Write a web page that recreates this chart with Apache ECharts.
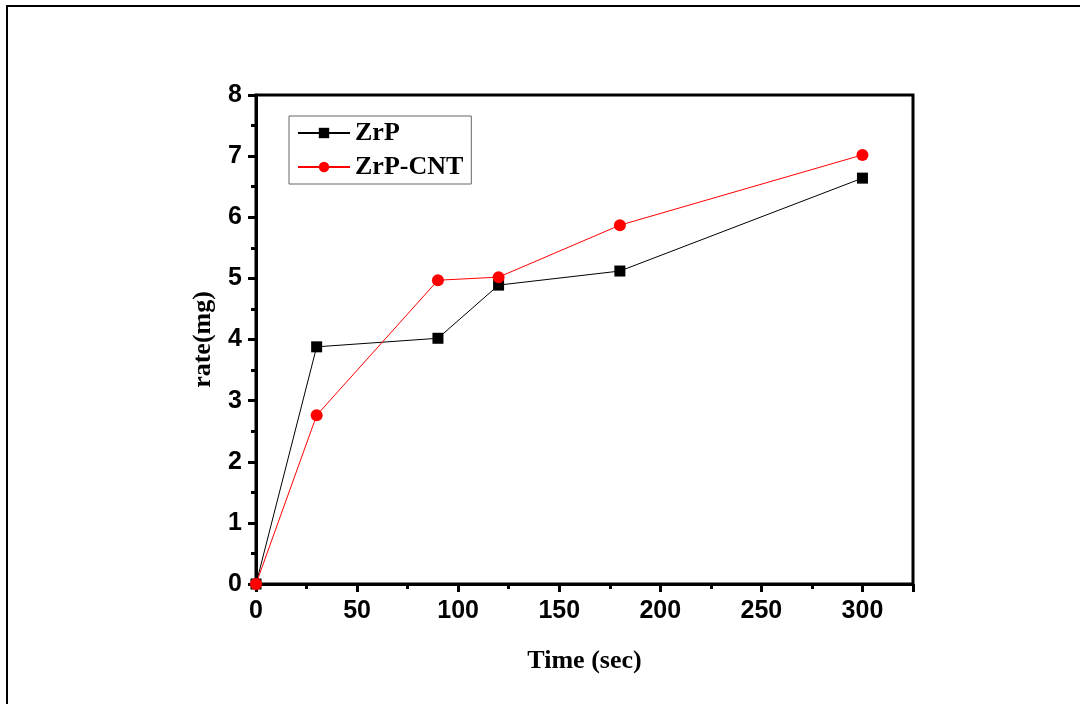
<!DOCTYPE html>
<html>
<head>
<meta charset="utf-8">
<script src="https://cdn.jsdelivr.net/npm/echarts@6/dist/echarts.min.js"></script>
<style>
  html, body { margin: 0; padding: 0; background: #fff; }
  #chart { width: 1080px; height: 704px; }
</style>
</head>
<body>
<div id="chart"></div>
<script>
// time points (sec)
const times = [0, 30, 90, 120, 180, 300];
// rate (mg)
const zrp = [0, 3.88, 4.02, 4.89, 5.12, 6.64];
const zrpCnt = [0, 2.76, 4.97, 5.02, 5.87, 7.02];

const tickFont = { fontFamily: "Liberation Sans", fontWeight: "bold", fontSize: 25, color: "#000" };
const nameFont = { fontFamily: "Liberation Serif", fontWeight: "bold", fontSize: 26, color: "#000" };

const chart = echarts.init(document.getElementById("chart"));
chart.setOption({
  animation: false,
  backgroundColor: "#fff",
  grid: {
    left: 256, right: 167, top: 95, bottom: 120,
    show: true, borderColor: "#000", borderWidth: 3
  },
  graphic: [
    { type: "polyline", shape: { points: [[7, 704], [7, 6], [1080, 6]] },
      style: { stroke: "#000", lineWidth: 2, fill: null } }
  ],
  legend: {
    orient: "vertical",
    left: 289, top: 116,
    padding: [4, 8, 4, 8],
    itemGap: 8,
    itemWidth: 52, itemHeight: 13,
    borderColor: "#666", borderWidth: 1,
    textStyle: nameFont,
    data: ["ZrP", "ZrP-CNT"]
  },
  xAxis: {
    type: "value",
    min: 0, max: 325, interval: 50,
    name: "Time (sec)", nameLocation: "middle", nameGap: 64,
    nameTextStyle: nameFont,
    axisLine: { lineStyle: { color: "#000", width: 3 } },
    axisTick: { length: 8, lineStyle: { width: 3 } },
    minorTick: { show: true, splitNumber: 2, length: 5, lineStyle: { color: "#000", width: 3 } },
    axisLabel: { ...tickFont, margin: 15, showMaxLabel: false },
    splitLine: { show: false }
  },
  yAxis: {
    type: "value",
    min: 0, max: 8, interval: 1,
    name: "rate(mg)", nameLocation: "middle", nameGap: 40,
    nameTextStyle: nameFont,
    axisLine: { lineStyle: { color: "#000", width: 3 } },
    axisTick: { length: 8, lineStyle: { width: 3 } },
    minorTick: { show: true, splitNumber: 2, length: 5, lineStyle: { color: "#000", width: 3 } },
    axisLabel: { ...tickFont, margin: 14 },
    splitLine: { show: false }
  },
  series: [
    {
      name: "ZrP", type: "line",
      data: times.map((t, i) => [t, zrp[i]]),
      symbol: "rect", symbolSize: 11,
      itemStyle: { color: "#000" },
      lineStyle: { color: "#000", width: 1 }
    },
    {
      name: "ZrP-CNT", type: "line",
      data: times.map((t, i) => [t, zrpCnt[i]]),
      symbol: "circle", symbolSize: 12,
      itemStyle: { color: "#ff0000" },
      lineStyle: { color: "#ff0000", width: 1 }
    }
  ]
});
</script>
</body>
</html>
